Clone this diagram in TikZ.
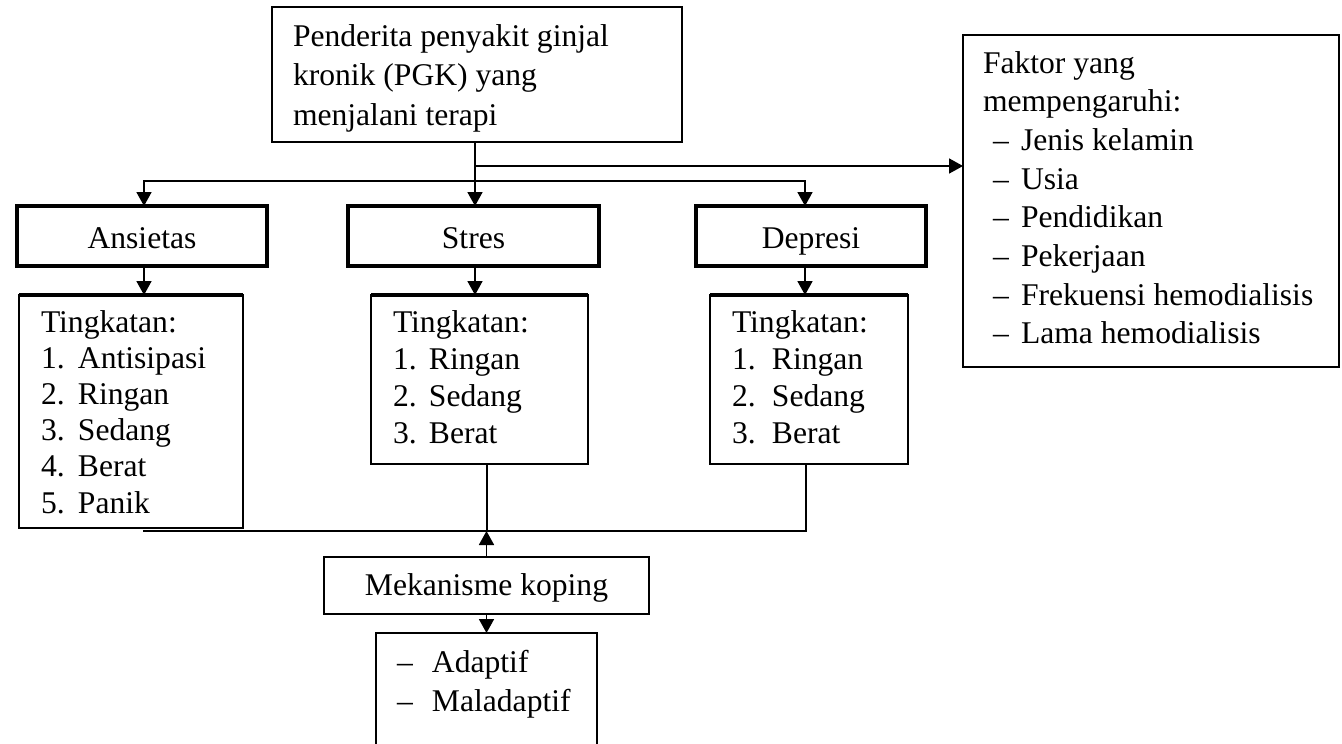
\documentclass[tikz,border=0pt]{standalone}
\usepackage{fontspec}
\setmainfont{Liberation Serif}
\usetikzlibrary{arrows.meta,calc}
\begin{document}
\begin{tikzpicture}[x=1pt,y=-1pt,
  box/.style={draw, line width=1.2pt, inner sep=0pt, outer sep=0pt, anchor=north west},
  hbox/.style={draw, line width=3.2pt, inner sep=0pt, outer sep=0pt, anchor=north west, font=\fontsize{31.6}{37}\selectfont, text height=24pt, text depth=0pt},
  nobox/.style={inner sep=0pt, outer sep=0pt, anchor=north west},
  txt/.style={inner sep=0pt, outer sep=0pt, anchor=base west},
  arr/.style={line width=1.8pt, -{Triangle[length=14pt,width=15pt]}},
  ln/.style={line width=1.6pt},
  thickedge/.style={line width=3.2pt}]
\useasboundingbox[fill=white] (0,0) rectangle (1342,744);

% boxes
\node[box, minimum width=410pt, minimum height=135pt] (top) at (272,7) {};
\node[hbox, minimum width=250pt, minimum height=60pt] (ans) at (17,206) {Ansietas};
\node[hbox, minimum width=251pt, minimum height=60pt] (str) at (348,206) {Stres};
\node[hbox, minimum width=230pt, minimum height=60pt] (dep) at (696,206) {Depresi};
\node[box, minimum width=224pt, minimum height=233pt] (ansL) at (19,295) {};
\node[box, minimum width=217pt, minimum height=169pt] (strL) at (371,295) {};
\node[box, minimum width=198pt, minimum height=169pt] (depL) at (710,295) {};
\draw[thickedge] (ansL.north west) -- (ansL.north east);
\draw[thickedge] (strL.north west) -- (strL.north east);
\draw[thickedge] (depL.north west) -- (depL.north east);
\node[box, minimum width=376pt, minimum height=332pt] (fak) at (963,35) {};
\node[box, minimum width=325pt, minimum height=57pt, font=\fontsize{31.6}{37}\selectfont, text height=21pt, text depth=2pt] (mek) at (324,557) {Mekanisme koping};
\node[nobox, minimum width=221pt, minimum height=120pt] (ada) at (376,633) {};
\draw[line width=1.2pt] (ada.south west) -- (ada.north west) -- (ada.north east) -- (ada.south east);

% texts
\node[txt, font=\fontsize{31.6}{39.5}\selectfont] (topT) at (293,46) {\begin{tabular}[t]{@{}l@{}}Penderita penyakit ginjal\\ kronik (PGK) yang\\ menjalani terapi\end{tabular}};
\node[txt, font=\fontsize{31.6}{36.2}\selectfont] (ansT) at (41,332) {\begin{tabular}[t]{@{}l@{}}Tingkatan:\\ \makebox[37pt][l]{1.}Antisipasi\\ \makebox[37pt][l]{2.}Ringan\\ \makebox[37pt][l]{3.}Sedang\\ \makebox[37pt][l]{4.}Berat\\ \makebox[37pt][l]{5.}Panik\end{tabular}};
\node[txt, font=\fontsize{31.6}{37}\selectfont] (strT) at (393,332) {\begin{tabular}[t]{@{}l@{}}Tingkatan:\\ \makebox[36pt][l]{1.}Ringan\\ \makebox[36pt][l]{2.}Sedang\\ \makebox[36pt][l]{3.}Berat\end{tabular}};
\node[txt, font=\fontsize{31.6}{37}\selectfont] (depT) at (732,332) {\begin{tabular}[t]{@{}l@{}}Tingkatan:\\ \makebox[40pt][l]{1.}Ringan\\ \makebox[40pt][l]{2.}Sedang\\ \makebox[40pt][l]{3.}Berat\end{tabular}};
\node[txt, font=\fontsize{31.6}{38.7}\selectfont] (fakT) at (983,73) {\begin{tabular}[t]{@{}l@{}}Faktor yang\\ mempengaruhi:\\
\hspace*{10pt}\makebox[28pt][l]{–}Jenis kelamin\\
\hspace*{10pt}\makebox[28pt][l]{–}Usia\\
\hspace*{10pt}\makebox[28pt][l]{–}Pendidikan\\
\hspace*{10pt}\makebox[28pt][l]{–}Pekerjaan\\
\hspace*{10pt}\makebox[28pt][l]{–}Frekuensi hemodialisis\\
\hspace*{10pt}\makebox[28pt][l]{–}Lama hemodialisis\end{tabular}};
\node[txt, font=\fontsize{31.6}{39}\selectfont] (adaT) at (397,672) {\begin{tabular}[t]{@{}l@{}}\makebox[35pt][l]{–}Adaptif\\ \makebox[35pt][l]{–}Maladaptif\end{tabular}};

% connectors
\coordinate (jF) at (475,166);
\coordinate (jB) at (475,181);
\coordinate (aA) at (144,206);
\coordinate (aD) at (805,206);
\draw[ln] (top.south -| jF) -- (jB);
\draw[arr] (jB) -- (jB |- str.north);
\draw[arr] (jB) -| (aA);
\draw[arr] (jB) -| (aD);
\draw[arr] (jF) -- (jF -| fak.west);
\draw[arr] (ans.south -| aA) -- (aA |- ansL.north);
\draw[arr] (str.south -| jB) -- (jB |- strL.north);
\draw[arr] (dep.south -| aD) -- (aD |- depL.north);
\coordinate (bA) at (143,531);
\coordinate (bS) at (487,464);
\coordinate (bD) at (806,464);
\draw[ln] (bA) -- (bA -| bD) -- (bD);
\draw[ln] (bS) -- (bS |- bA);
\draw[arr] (mek.north) -- (mek.north |- bA);
\draw[arr] (mek.south) -- (ada.north);
\end{tikzpicture}
\end{document}
